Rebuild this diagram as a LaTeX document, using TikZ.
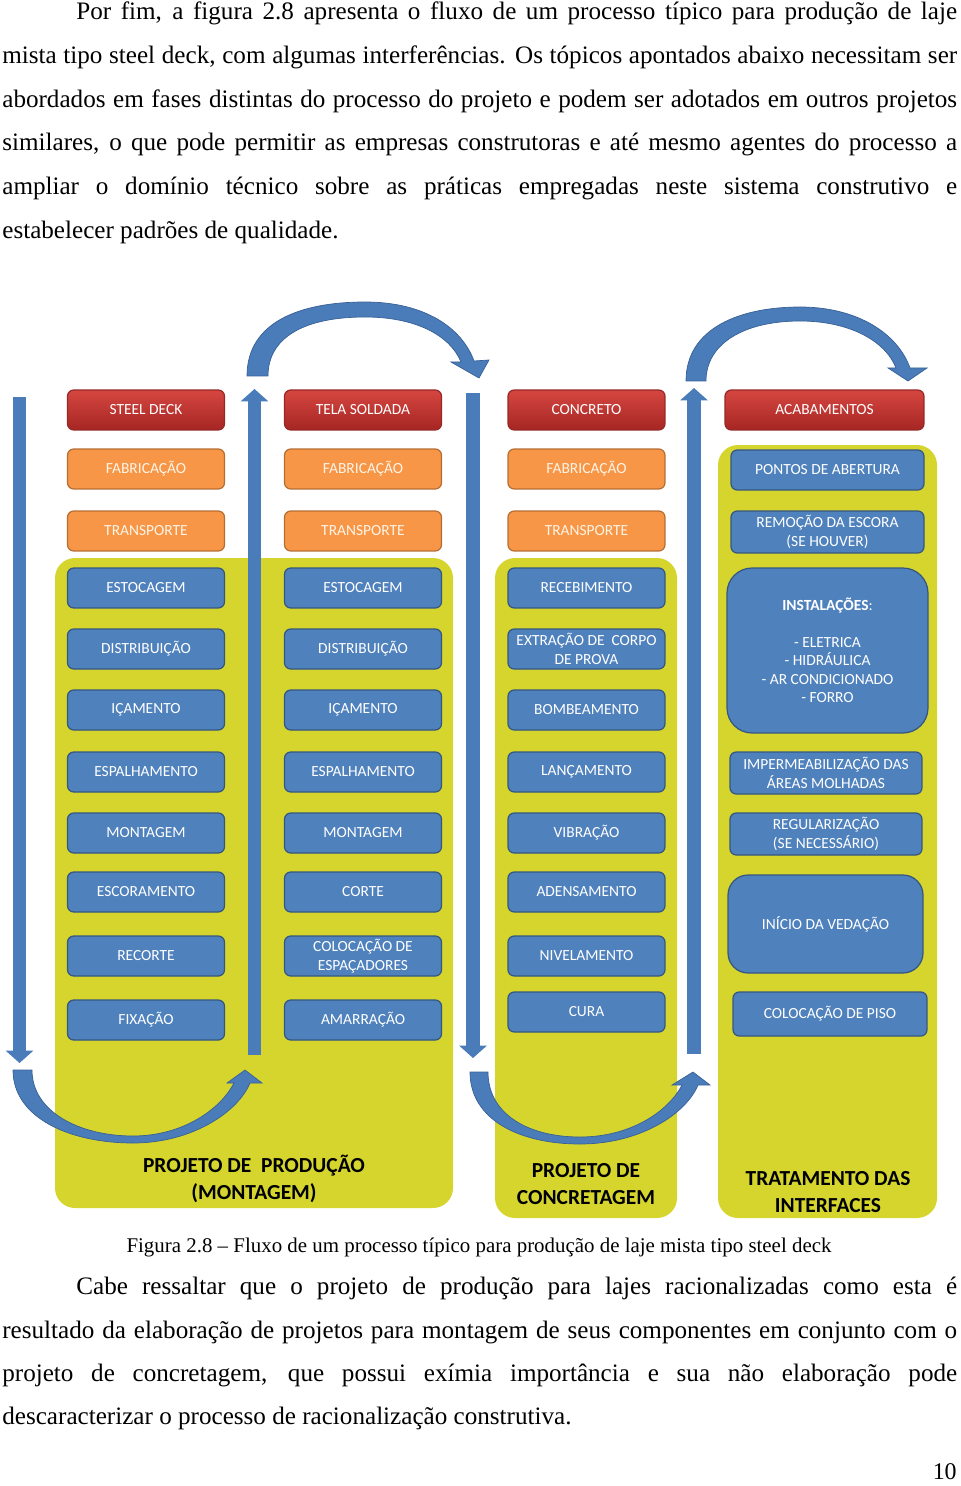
\documentclass[tikz,border=0pt]{standalone}
\usepackage{fontspec}
\setmainfont{Liberation Serif}
\newfontfamily\boxfont{Carlito}
\usetikzlibrary{arrows.meta,positioning}

\definecolor{panelyellow}{RGB}{213,213,46}
\definecolor{hdrtop}{RGB}{214,70,64}
\definecolor{hdrbot}{RGB}{165,38,36}
\definecolor{hdrline}{RGB}{150,40,38}
\definecolor{prepfill}{RGB}{247,150,70}
\definecolor{prepline}{RGB}{182,109,49}
\definecolor{preptext}{RGB}{255,244,230}
\definecolor{taskfill}{RGB}{79,129,189}
\definecolor{taskline}{RGB}{52,86,128}
\definecolor{flowblue}{RGB}{74,124,186}
\definecolor{flowline}{RGB}{56,96,150}

\begin{document}
\begin{tikzpicture}[x=0.02cm, y=-0.02cm,
    panel/.style={fill=panelyellow, rounded corners=0.4cm},
    stage/.style={rectangle, rounded corners=3.5pt, minimum width=3.14cm, minimum height=0.8cm, inner sep=1pt, align=center, text=white, line width=0.7pt, font=\boxfont\fontsize{8.8}{10.5}\selectfont},
    hdr/.style={stage, top color=hdrtop, bottom color=hdrbot, draw=hdrline},
    prep/.style={stage, fill=prepfill, draw=prepline, text=preptext},
    task/.style={stage, fill=taskfill, draw=taskline},
    flow/.style={draw=flowblue, line width=7.8pt, -{Triangle[width=15.3pt,length=7pt]}},
    curl/.style={fill=flowblue, draw=flowline, line width=0.4pt},
    phase/.style={font=\boxfont\bfseries\fontsize{12.2}{15.6}\selectfont, align=center},
    body/.style={anchor=base west, inner sep=0pt, font=\fontsize{14.3}{24.8}\selectfont}
]
\useasboundingbox (0,0) rectangle (960,1486);

% Text above the figure
\node[body] (top1) at (76,20) {\makebox[17.62cm][s]{Por fim, a figura 2.8 apresenta o fluxo de um processo típico para produção de laje}};
\node[body] (top2) at (2,64) {\makebox[19.1cm][s]{mista tipo steel deck, com algumas interferências. Os tópicos apontados abaixo necessitam ser}};
\node[body] (top3) at (2,108) {\makebox[19.1cm][s]{abordados em fases distintas do processo do projeto e podem ser adotados em outros projetos}};
\node[body] (top4) at (2,151) {\makebox[19.1cm][s]{similares, o que pode permitir as empresas construtoras e até mesmo agentes do processo a}};
\node[body] (top5) at (2,195) {\makebox[19.1cm][s]{ampliar o domínio técnico sobre as práticas empregadas neste sistema construtivo e}};
\node[body] (top6) at (2,239) {estabelecer padrões de qualidade.};

% Yellow panels
\fill[panel] (55,558) rectangle (453,1208);
\fill[panel] (495,558) rectangle (677,1218);
\fill[panel] (718,445) rectangle (937,1218);

% Straight flow arrows
\coordinate (aTop) at (19.5,397);
\coordinate (aEnd) at (19.5,1063);
\coordinate (bStart) at (254.5,1055);
\coordinate (bEnd) at (254.5,389);
\coordinate (cTop) at (473,393);
\coordinate (cEnd) at (473,1058);
\coordinate (dStart) at (694,1054);
\coordinate (dEnd) at (694,388);
\foreach \s/\e in {aTop/aEnd, bStart/bEnd, cTop/cEnd, dStart/dEnd} {
    \draw[flow] (\s) -- (\e);
}

% Curved arrows (top)
\filldraw[curl] (247,376) .. controls (247,322) and (300,302) .. (365,302)
    .. controls (425,302) and (462,328) .. (474,361) -- (489,360) -- (479,378) -- (451,362) -- (461,362)
    .. controls (450,335) and (415,317) .. (365,317)
    .. controls (305,317) and (268,337) .. (268,376) -- cycle;
\filldraw[curl] (686,381) .. controls (686,328) and (740,307) .. (800,307)
    .. controls (858,307) and (898,334) .. (910,368) -- (927,368) -- (908,381) -- (888,368) -- (896,368)
    .. controls (885,340) and (848,321) .. (800,321)
    .. controls (745,321) and (706,343) .. (706,381) -- cycle;

% Curved arrows (bottom)
\filldraw[curl] (13,1070) .. controls (13,1118) and (70,1143) .. (133,1143)
    .. controls (192,1143) and (238,1112) .. (250,1083) -- (262,1083) -- (245,1070) -- (227,1083) -- (234,1083)
    .. controls (220,1110) and (182,1136) .. (133,1136)
    .. controls (80,1136) and (32,1112) .. (32,1070) -- cycle;
\filldraw[curl] (470,1072) .. controls (470,1120) and (520,1144) .. (580,1144)
    .. controls (640,1144) and (686,1114) .. (698,1085) -- (710,1085) -- (693,1072) -- (672,1085) -- (682,1085)
    .. controls (668,1112) and (630,1137) .. (580,1137)
    .. controls (528,1137) and (488,1114) .. (488,1072) -- cycle;

% Steel deck column
\node[hdr] (deck0) at (146,410) {STEEL DECK};
\node[prep] (deck1) at (146,469) {FABRICAÇÃO};
\node[prep] (deck2) at (146,531) {TRANSPORTE};
\node[task] (deck3) at (146,588) {ESTOCAGEM};
\node[task] (deck4) at (146,649) {DISTRIBUIÇÃO};
\node[task] (deck5) at (146,710) {IÇAMENTO};
\node[task] (deck6) at (146,772) {ESPALHAMENTO};
\node[task] (deck7) at (146,833) {MONTAGEM};
\node[task] (deck8) at (146,892) {ESCORAMENTO};
\node[task] (deck9) at (146,956) {RECORTE};
\node[task] (deck10) at (146,1020) {FIXAÇÃO};

% Tela soldada column
\node[hdr] (tela0) at (363,410) {TELA SOLDADA};
\node[prep] (tela1) at (363,469) {FABRICAÇÃO};
\node[prep] (tela2) at (363,531) {TRANSPORTE};
\node[task] (tela3) at (363,588) {ESTOCAGEM};
\node[task] (tela4) at (363,649) {DISTRIBUIÇÃO};
\node[task] (tela5) at (363,710) {IÇAMENTO};
\node[task] (tela6) at (363,772) {ESPALHAMENTO};
\node[task] (tela7) at (363,833) {MONTAGEM};
\node[task] (tela8) at (363,892) {CORTE};
\node[task] (tela9) at (363,956) {COLOCAÇÃO DE\\ESPAÇADORES};
\node[task] (tela10) at (363,1020) {AMARRAÇÃO};

% Concreto column
\node[hdr] (conc0) at (586.5,410) {CONCRETO};
\node[prep] (conc1) at (586.5,469) {FABRICAÇÃO};
\node[prep] (conc2) at (586.5,531) {TRANSPORTE};
\node[task] (conc3) at (586.5,588) {RECEBIMENTO};
\node[task] (conc4) at (586.5,649) {EXTRAÇÃO DE\ \ CORPO\\DE PROVA};
\node[task] (conc5) at (586.5,710) {BOMBEAMENTO};
\node[task] (conc6) at (586.5,772) {LANÇAMENTO};
\node[task] (conc7) at (586.5,833) {VIBRAÇÃO};
\node[task] (conc8) at (586.5,892) {ADENSAMENTO};
\node[task] (conc9) at (586.5,956) {NIVELAMENTO};
\node[task] (conc10) at (586.5,1012) {CURA};

% Acabamentos column
\node[hdr, minimum width=3.98cm] (acab0) at (824.5,410) {ACABAMENTOS};
\node[task, minimum width=3.86cm] (acab1) at (827.5,470) {PONTOS DE ABERTURA};
\node[task, minimum width=3.86cm, minimum height=0.84cm] (acab2) at (827.5,532) {REMOÇÃO DA ESCORA\\(SE HOUVER)};
\node[task, minimum width=4.02cm, minimum height=3.3cm, rounded corners=0.5cm] (acab3) at (827.5,650.5) {\textbf{INSTALAÇÕES}:\\[10.5pt]- ELETRICA\\- HIDRÁULICA\\- AR CONDICIONADO\\- FORRO};
\node[task, minimum width=3.84cm, minimum height=0.84cm] (acab4) at (826,773) {IMPERMEABILIZAÇÃO DAS\\ÁREAS MOLHADAS};
\node[task, minimum width=3.84cm, minimum height=0.84cm] (acab5) at (826,834) {REGULARIZAÇÃO\\(SE NECESSÁRIO)};
\node[task, minimum width=3.9cm, minimum height=1.96cm, rounded corners=0.4cm] (acab6) at (825.5,924) {INÍCIO DA VEDAÇÃO};
\node[task, minimum width=3.88cm, minimum height=0.88cm] (acab7) at (830,1014) {COLOCAÇÃO DE PISO};

% Panel titles
\node[phase] (prod) at (254,1179) {PROJETO DE\ \ PRODUÇÃO\\(MONTAGEM)};
\node[phase] (concr) at (586,1184) {PROJETO DE\\CONCRETAGEM};
\node[phase] (inter) at (828,1192) {TRATAMENTO DAS\\INTERFACES};

% Caption and following text
\node[anchor=base, inner sep=0pt, font=\fontsize{11.9}{14}\selectfont] (cap) at (479,1252) {Figura 2.8 -- Fluxo de um processo típico para produção de laje mista tipo steel deck};
\node[body] (bot1) at (76,1294) {\makebox[17.62cm][s]{Cabe ressaltar que o projeto de produção para lajes racionalizadas como esta é}};
\node[body] (bot2) at (2,1338) {\makebox[19.1cm][s]{resultado da elaboração de projetos para montagem de seus componentes em conjunto com o}};
\node[body] (bot3) at (2,1381) {\makebox[19.1cm][s]{projeto de concretagem, que possui exímia importância e sua não elaboração pode}};
\node[body] (bot4) at (2,1424) {descaracterizar o processo de racionalização construtiva.};
\node[body, anchor=base east, font=\fontsize{13.6}{16}\selectfont] (page) at (957,1479) {10};

\end{tikzpicture}
\end{document}
